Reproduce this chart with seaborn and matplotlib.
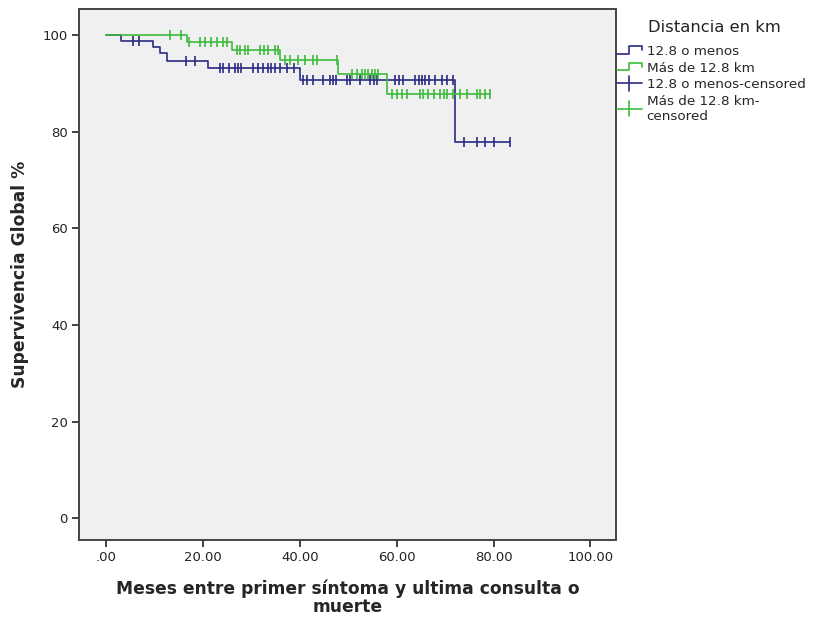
import numpy as np
import pandas as pd
import matplotlib
matplotlib.use("Agg")
import matplotlib.pyplot as plt
import seaborn as sns
from matplotlib.lines import Line2D
from matplotlib.legend_handler import HandlerBase

# ---------------- data ----------------
# Group "12.8 o menos"
blue_drop_times = [3.0, 9.6, 11.0, 12.6, 21.0, 40.0, 72.1]
blue_levels = [98.8, 97.5, 96.2, 94.6, 93.1, 90.8, 77.8]
blue_end = 83.4
blue_censored = [5.5, 6.7, 16.5, 18.3, 23.4, 24.1, 25.4, 26.5, 27.2, 27.9, 30.3,
                 31.4, 32.4, 33.4, 34.1, 34.8, 35.9, 37.4, 38.8, 40.7, 41.4, 42.7,
                 44.8, 46.2, 46.8, 47.4, 49.7, 50.4, 52.4, 54.5, 55.2, 55.9, 59.7,
                 60.4, 61.2, 63.8, 64.5, 65.2, 65.9, 66.6, 68.0, 69.3, 70.4, 71.7,
                 73.8, 76.5, 78.2, 80.0, 83.4]

# Group "Más de 12.8 km"
green_drop_times = [16.6, 26.0, 35.9, 47.9, 58.0]
green_levels = [98.6, 97.0, 94.8, 92.0, 87.9]
green_end = 79.3
green_censored = [13.2, 15.5, 17.0, 19.3, 20.3, 21.7, 22.8, 24.1, 25.0, 26.9, 27.6,
                  28.6, 29.3, 31.7, 32.6, 33.4, 34.8, 35.5, 36.9, 38.0, 39.6, 41.0,
                  42.6, 43.5, 47.6, 50.7, 51.7, 52.8, 53.4, 54.1, 54.8, 55.5, 56.2,
                  59.0, 60.0, 61.0, 62.1, 64.8, 65.5, 66.5, 67.6, 69.0, 69.7, 70.3,
                  71.7, 73.1, 74.5, 76.6, 77.2, 78.3, 79.3]

legend_title = "Distancia en km"
legend_labels = ["12.8 o menos", "Más de 12.8 km", "12.8 o menos-censored",
                 "Más de 12.8 km-\ncensored"]
x_ticks = [0, 20, 40, 60, 80, 100]
x_tick_labels = [".00", "20.00", "40.00", "60.00", "80.00", "100.00"]
y_ticks = [0, 20, 40, 60, 80, 100]

BLUE = "#2B2B84"
GREEN = "#3CBC3C"

# ---------------- figure ----------------
sns.set_theme(style="white")
plt.rcParams["font.family"] = ["DejaVu Sans"]

fig = plt.figure(figsize=(8.17, 6.22), dpi=100)
W, H = 817, 622
ax = fig.add_axes([79 / W, 1 - 540 / H, (616 - 79) / W, (540 - 9) / H])
ax.set_facecolor("#F0F0F0")


def curve(drop_times, levels, end):
    xs = [0.0] + list(drop_times) + [end]
    ys = [100.0] + list(levels) + [levels[-1]]
    return pd.DataFrame({"x": xs, "y": ys})


def censor_points(drop_times, levels, cens):
    full = np.array([100.0] + list(levels))
    idx = np.searchsorted(np.array(drop_times), np.array(cens), side="right")
    return pd.DataFrame({"x": cens, "y": full[idx]})


for dt, lv, end, cens, col in [
    (blue_drop_times, blue_levels, blue_end, blue_censored, BLUE),
    (green_drop_times, green_levels, green_end, green_censored, GREEN),
]:
    df = curve(dt, lv, end)
    sns.lineplot(data=df, x="x", y="y", ax=ax, color=col, linewidth=1.2,
                 drawstyle="steps-post", estimator=None, sort=False)
    cp = censor_points(dt, lv, cens)
    sns.scatterplot(data=cp, x="x", y="y", ax=ax, color=col, marker="|",
                    s=45, linewidth=1.2, zorder=3)

ax.set_xlim(-5.67, 105.3)
ax.set_ylim(-4.45, 105.4)
ax.set_xticks(x_ticks)
ax.set_xticklabels(x_tick_labels)
ax.set_yticks(y_ticks)
ax.tick_params(axis="both", which="both", direction="out", length=5, width=1.3,
               color="#333333", labelsize=9.5, labelcolor="#222222", pad=3,
               bottom=True, left=True)
for s in ax.spines.values():
    s.set_color("#444444")
    s.set_linewidth(1.4)

ax.set_xlabel("Meses entre primer síntoma y ultima consulta o\nmuerte",
              fontsize=12.3, fontweight="bold", labelpad=11, linespacing=1.0)
ax.set_ylabel("Supervivencia Global %", fontsize=12.3, fontweight="bold",
              labelpad=10)


# ---------------- legend ----------------
class StepHandler(HandlerBase):
    def create_artists(self, legend, orig_handle, xdescent, ydescent, width,
                       height, fontsize, trans):
        x0 = -xdescent
        y0 = -ydescent
        xs = [x0, x0 + width * 0.5, x0 + width * 0.5, x0 + width, x0 + width]
        ys = [y0 + height * 0.15, y0 + height * 0.15, y0 + height * 0.95,
              y0 + height * 0.95, y0 + height * 0.5]
        ln = Line2D(xs, ys, color=orig_handle.get_color(), lw=1.2,
                    transform=trans)
        return [ln]


class CensorHandler(HandlerBase):
    def create_artists(self, legend, orig_handle, xdescent, ydescent, width,
                       height, fontsize, trans):
        x0 = -xdescent
        y0 = -ydescent
        c = orig_handle.get_color()
        h = Line2D([x0, x0 + width], [y0 + height / 2] * 2, color=c, lw=1.2,
                   transform=trans)
        v = Line2D([x0 + width / 2] * 2, [y0 - height * 0.3, y0 + height * 1.3],
                   color=c, lw=1.2, transform=trans)
        return [h, v]


h1 = Line2D([], [], color=BLUE)
h2 = Line2D([], [], color=GREEN)
h3 = Line2D([], [], color=BLUE, marker="|")
h4 = Line2D([], [], color=GREEN, marker="|")
leg = fig.legend(handles=[h1, h2, h3, h4], labels=legend_labels,
                 handler_map={h1: StepHandler(), h2: StepHandler(),
                              h3: CensorHandler(), h4: CensorHandler()},
                 loc="upper left", bbox_to_anchor=(617 / W, 1 - 45 / H),
                 frameon=False, fontsize=9.7, handlelength=1.85,
                 handletextpad=0.35, labelspacing=0.26, borderpad=0,
                 borderaxespad=0)
fig.text(648 / W, 1 - 27 / H, legend_title, fontsize=11.8, ha="left",
         va="center", color="#222222")

fig.savefig("out.png", dpi=100, facecolor="white")
